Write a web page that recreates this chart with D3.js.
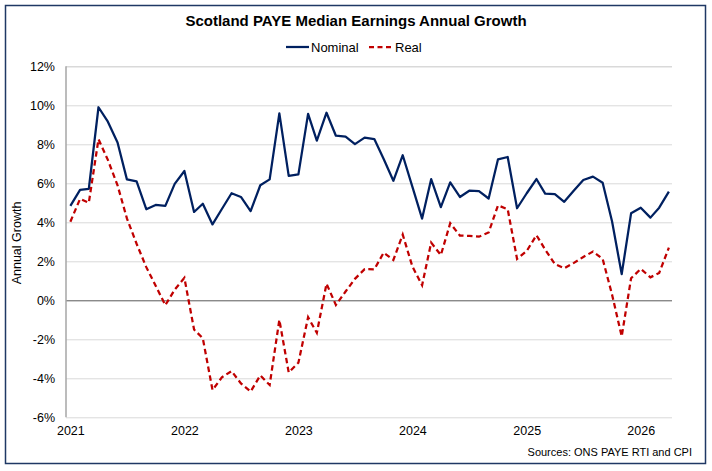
<!DOCTYPE html>
<html>
<head>
<meta charset="utf-8">
<script src="https://cdnjs.cloudflare.com/ajax/libs/d3/7.8.5/d3.min.js"></script>
<style>
  body { margin: 0; background: #fff; }
  svg { font-family: "Liberation Sans", Arial, sans-serif; }
</style>
</head>
<body>
<div class="container"></div>
<script>
// monthly, Jan 2021 .. Apr 2026
const months = d3.timeMonth.range(new Date(2021, 0, 1), new Date(2026, 4, 1));

const nominal = [4.84, 5.66, 5.71, 9.9, 9.16, 8.09, 6.2, 6.1, 4.67, 4.89, 4.84, 5.97,
  6.63, 4.53, 4.95, 3.89, 4.68, 5.49, 5.3, 4.57, 5.9, 6.2, 9.59, 6.38,
  6.46, 9.56, 8.19, 9.62, 8.44, 8.39, 8.01, 8.34, 8.27, 7.25, 6.13, 7.44,
  5.82, 4.19, 6.21, 4.78, 6.05, 5.3, 5.62, 5.6, 5.22, 7.23, 7.35, 4.72,
  5.49, 6.22, 5.47, 5.45, 5.05, 5.63, 6.17, 6.34, 6.03, 4.05, 1.34, 4.46,
  4.75, 4.24, 4.75, 5.57];

const real = [4.03, 5.2, 5.0, 8.26, 7.2, 5.9, 4.2, 2.9, 1.7, 0.75, -0.25, 0.55,
  1.15, -1.5, -1.95, -4.6, -3.95, -3.63, -4.26, -4.68, -3.85, -4.34, -1.0, -3.7,
  -3.2, -0.87, -1.67, 0.85, -0.24, 0.45, 1.1, 1.6, 1.59, 2.44, 2.07, 3.37,
  1.73, 0.77, 2.96, 2.32, 3.95, 3.32, 3.3, 3.26, 3.48, 4.87, 4.67, 2.12,
  2.53, 3.34, 2.6, 1.86, 1.64, 1.92, 2.22, 2.5, 2.12, 0.3, -1.85, 1.13,
  1.61, 1.18, 1.4, 2.7];

const yTicks = [-6, -4, -2, 0, 2, 4, 6, 8, 10, 12];
const years = [2021, 2022, 2023, 2024, 2025, 2026];

const width = 712;
const height = 471;
const plotLeft = 66, plotRight = 672, plotTop = 66.3, plotBottom = 417.3;

const svg = d3.select(".container").append("svg")
  .attr("width", width)
  .attr("height", height);

// frame
svg.append("rect")
  .attr("x", 5.5).attr("y", 5.5)
  .attr("width", 700).attr("height", 458)
  .attr("fill", "#fff")
  .attr("stroke", "#1f3864")
  .attr("stroke-width", 1.5);

const x = d3.scaleTime()
  .domain([new Date(2020, 11, 18), new Date(2026, 3, 11)])
  .range([plotLeft, plotRight]);

const y = d3.scaleLinear()
  .domain([-6, 12])
  .range([plotBottom, plotTop]);

// gridlines
svg.append("g")
  .attr("transform", `translate(${plotLeft},0)`)
  .call(d3.axisLeft(y).tickValues(yTicks).tickSize(-(plotRight - plotLeft)).tickFormat(""))
  .call(g => g.select(".domain").remove())
  .call(g => g.selectAll("line")
    .attr("stroke", d => d === 0 ? "#595959" : "#d9d9d9")
    .attr("stroke-width", d => d === 12 ? 1.5 : 1));

// y axis line
svg.append("line")
  .attr("x1", plotLeft).attr("x2", plotLeft)
  .attr("y1", plotTop).attr("y2", plotBottom)
  .attr("stroke", "#a6a6a6")
  .attr("stroke-width", 1.5);

// y labels
svg.append("g")
  .attr("transform", `translate(${plotLeft},0)`)
  .call(d3.axisLeft(y).tickValues(yTicks).tickSize(0).tickPadding(11).tickFormat(d => d + "%"))
  .call(g => g.select(".domain").remove())
  .call(g => g.selectAll("text")
    .attr("font-size", 12.5)
    .attr("font-family", "Liberation Sans, Arial, sans-serif")
    .attr("fill", "#000"));

// x labels
svg.append("g")
  .attr("transform", `translate(0,${plotBottom})`)
  .call(d3.axisBottom(x)
    .tickValues(years.map(yr => new Date(yr, 0, 1)))
    .tickSize(0).tickPadding(9)
    .tickFormat(d3.timeFormat("%Y")))
  .call(g => g.select(".domain").remove())
  .call(g => g.selectAll("text")
    .attr("font-size", 12.5)
    .attr("font-family", "Liberation Sans, Arial, sans-serif")
    .attr("fill", "#000"));

const line = d3.line()
  .x((d, i) => x(months[i]))
  .y(d => y(d));

svg.append("path")
  .datum(nominal)
  .attr("fill", "none")
  .attr("stroke", "#002060")
  .attr("stroke-width", 2.25)
  .attr("stroke-linejoin", "round")
  .attr("d", line);

svg.append("path")
  .datum(real)
  .attr("fill", "none")
  .attr("stroke", "#c00000")
  .attr("stroke-width", 2.25)
  .attr("stroke-dasharray", "5.5,3.5")
  .attr("d", line);

// title
svg.append("text")
  .attr("x", 356).attr("y", 26)
  .attr("text-anchor", "middle")
  .attr("font-size", 15)
  .attr("font-weight", "bold")
  .text("Scotland PAYE Median Earnings Annual Growth");

// legend
const legend = svg.append("g");
legend.append("line")
  .attr("x1", 286).attr("x2", 309).attr("y1", 47).attr("y2", 47)
  .attr("stroke", "#002060").attr("stroke-width", 2.25);
legend.append("text")
  .attr("x", 311).attr("y", 51.5)
  .attr("font-size", 13)
  .text("Nominal");
legend.append("line")
  .attr("x1", 369).attr("x2", 392).attr("y1", 47).attr("y2", 47)
  .attr("stroke", "#c00000").attr("stroke-width", 2.25)
  .attr("stroke-dasharray", "5,3.5");
legend.append("text")
  .attr("x", 395).attr("y", 51.5)
  .attr("font-size", 13)
  .text("Real");

// axis title
svg.append("text")
  .attr("transform", "translate(21,243) rotate(-90)")
  .attr("text-anchor", "middle")
  .attr("font-size", 12.5)
  .text("Annual Growth");

// source
svg.append("text")
  .attr("x", 692).attr("y", 456)
  .attr("text-anchor", "end")
  .attr("font-size", 11)
  .text("Sources: ONS PAYE RTI and CPI");
</script>
</body>
</html>
